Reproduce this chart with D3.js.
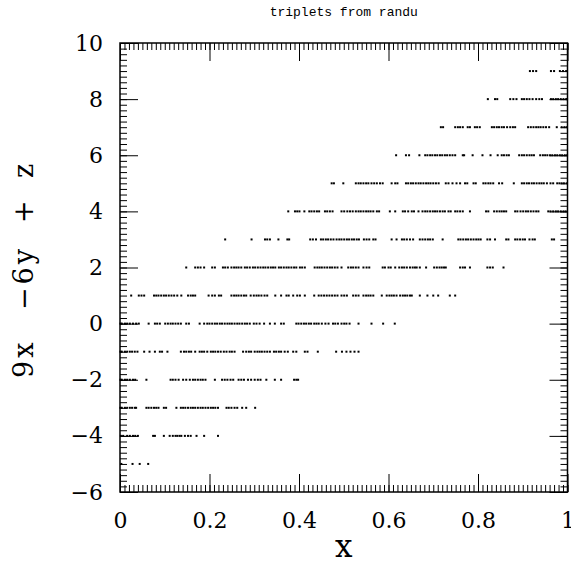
<!DOCTYPE html>
<html lang="en">
<head>
<meta charset="UTF-8">
<title>triplets from randu</title>
<script src="https://d3js.org/d3.v7.min.js"></script>
<style>
  body { margin: 0; background: #fff; }
  svg { display: block; }
  .tick line { stroke: #000; stroke-width: 1px; }
  .tick text { font-family: "DejaVu Serif", serif; fill: #000; }
  .title { font-family: "Liberation Mono", monospace; font-size: 13px; }
  .axis-label { font-family: "DejaVu Serif", serif; }
</style>
</head>
<body>
<svg width="571" height="569"></svg>
<script>
// values of 9x - 6y + z (integer levels) and the x of each point
const levels = [9, 8, 7, 6, 5, 4, 3, 2, 1, 0, -1, -2, -3, -4, -5];

const x9 = [0.916, 0.923, 0.930, 0.963, 0.970, 0.983, 0.990, 0.997];
const x8 = [0.822, 0.838, 0.843, 0.872, 0.879, 0.886, 0.898, 0.903, 0.909, 0.915, 0.922, 0.930,
  0.937, 0.943, 0.963, 0.968, 0.974, 0.979, 0.985, 0.991, 0.997, 0.999];
const x7 = [0.717, 0.722, 0.749, 0.755, 0.760, 0.766, 0.777, 0.782, 0.793, 0.798, 0.804, 0.831,
  0.836, 0.842, 0.847, 0.853, 0.858, 0.865, 0.872, 0.878, 0.883, 0.912, 0.918, 0.924, 0.930,
  0.935, 0.940, 0.946, 0.952, 0.959, 0.976, 0.987, 0.993, 0.998];
const x6 = [0.617, 0.639, 0.646, 0.669, 0.682, 0.687, 0.693, 0.698, 0.704, 0.709, 0.715, 0.720,
  0.726, 0.731, 0.737, 0.743, 0.749, 0.766, 0.769, 0.788, 0.810, 0.828, 0.844, 0.853, 0.858,
  0.864, 0.869, 0.892, 0.898, 0.903, 0.909, 0.915, 0.920, 0.925, 0.939, 0.945, 0.950, 0.955,
  0.961, 0.966, 0.972, 0.977, 0.983, 0.988, 0.994, 0.999];
const x5 = [0.473, 0.478, 0.499, 0.527, 0.533, 0.538, 0.544, 0.550, 0.555, 0.562, 0.568, 0.574,
  0.581, 0.587, 0.607, 0.615, 0.620, 0.639, 0.644, 0.650, 0.655, 0.661, 0.667, 0.672, 0.678,
  0.684, 0.689, 0.694, 0.700, 0.706, 0.712, 0.728, 0.734, 0.743, 0.752, 0.760, 0.771, 0.776,
  0.790, 0.795, 0.812, 0.817, 0.823, 0.828, 0.834, 0.847, 0.854, 0.880, 0.898, 0.903, 0.909,
  0.914, 0.920, 0.925, 0.931, 0.937, 0.942, 0.947, 0.954, 0.962, 0.968, 0.977, 0.982, 0.987,
  0.992, 0.998];
const x4 = [0.376, 0.391, 0.396, 0.401, 0.412, 0.423, 0.428, 0.434, 0.440, 0.445, 0.458, 0.463,
  0.469, 0.475, 0.495, 0.501, 0.508, 0.514, 0.520, 0.527, 0.533, 0.538, 0.544, 0.550, 0.555,
  0.560, 0.566, 0.574, 0.579, 0.603, 0.615, 0.632, 0.637, 0.644, 0.652, 0.657, 0.667, 0.676,
  0.682, 0.687, 0.693, 0.699, 0.704, 0.709, 0.715, 0.721, 0.726, 0.734, 0.739, 0.749, 0.754,
  0.760, 0.766, 0.782, 0.818, 0.823, 0.836, 0.842, 0.848, 0.853, 0.858, 0.863, 0.883, 0.888,
  0.895, 0.901, 0.907, 0.912, 0.918, 0.924, 0.930, 0.935, 0.957, 0.962, 0.968, 0.974, 0.979,
  0.985, 0.991, 0.996];
const x3 = [0.235, 0.294, 0.324, 0.329, 0.335, 0.354, 0.374, 0.378, 0.425, 0.431, 0.438, 0.449,
  0.454, 0.460, 0.465, 0.471, 0.477, 0.484, 0.490, 0.495, 0.501, 0.507, 0.512, 0.518, 0.523,
  0.529, 0.534, 0.545, 0.551, 0.557, 0.566, 0.571, 0.607, 0.618, 0.630, 0.635, 0.641, 0.648,
  0.655, 0.670, 0.676, 0.682, 0.688, 0.693, 0.699, 0.721, 0.756, 0.761, 0.767, 0.773, 0.778,
  0.784, 0.790, 0.796, 0.801, 0.806, 0.821, 0.827, 0.838, 0.863, 0.868, 0.883, 0.888, 0.894,
  0.900, 0.905, 0.915, 0.922, 0.927, 0.965, 0.970];
const x2 = [0.148, 0.168, 0.174, 0.180, 0.188, 0.206, 0.212, 0.230, 0.235, 0.241, 0.249, 0.255,
  0.260, 0.265, 0.271, 0.279, 0.284, 0.290, 0.297, 0.302, 0.308, 0.314, 0.320, 0.325, 0.331,
  0.337, 0.342, 0.347, 0.355, 0.360, 0.366, 0.372, 0.377, 0.383, 0.389, 0.394, 0.402, 0.407,
  0.413, 0.435, 0.441, 0.446, 0.451, 0.457, 0.463, 0.469, 0.474, 0.480, 0.486, 0.495, 0.510,
  0.516, 0.521, 0.527, 0.533, 0.544, 0.551, 0.557, 0.587, 0.592, 0.600, 0.605, 0.615, 0.624,
  0.630, 0.635, 0.641, 0.648, 0.654, 0.659, 0.663, 0.670, 0.684, 0.702, 0.708, 0.714, 0.719,
  0.724, 0.728, 0.760, 0.766, 0.771, 0.782, 0.821, 0.827, 0.833, 0.857];
const x1 = [0.025, 0.042, 0.048, 0.054, 0.076, 0.081, 0.086, 0.092, 0.098, 0.103, 0.109, 0.115,
  0.121, 0.128, 0.137, 0.152, 0.158, 0.163, 0.168, 0.198, 0.206, 0.212, 0.221, 0.226, 0.249,
  0.255, 0.260, 0.265, 0.271, 0.277, 0.282, 0.292, 0.299, 0.305, 0.310, 0.316, 0.323, 0.329,
  0.347, 0.360, 0.372, 0.377, 0.387, 0.396, 0.402, 0.413, 0.434, 0.444, 0.450, 0.456, 0.462,
  0.468, 0.474, 0.480, 0.486, 0.495, 0.501, 0.507, 0.521, 0.527, 0.533, 0.544, 0.550, 0.555,
  0.560, 0.566, 0.585, 0.596, 0.602, 0.607, 0.612, 0.618, 0.626, 0.632, 0.637, 0.642, 0.648,
  0.652, 0.670, 0.687, 0.700, 0.711, 0.737, 0.749];
const x0 = [0.001, 0.004, 0.011, 0.016, 0.022, 0.029, 0.036, 0.042, 0.064, 0.078, 0.083, 0.089,
  0.101, 0.107, 0.113, 0.118, 0.124, 0.130, 0.136, 0.148, 0.154, 0.178, 0.188, 0.195, 0.200,
  0.206, 0.212, 0.217, 0.223, 0.228, 0.234, 0.240, 0.245, 0.250, 0.256, 0.262, 0.267, 0.273,
  0.279, 0.284, 0.290, 0.299, 0.305, 0.312, 0.322, 0.335, 0.346, 0.360, 0.366, 0.394, 0.399,
  0.405, 0.411, 0.416, 0.422, 0.427, 0.434, 0.439, 0.444, 0.451, 0.459, 0.466, 0.476, 0.481,
  0.487, 0.495, 0.501, 0.506, 0.513, 0.533, 0.562, 0.588, 0.614];
const xm1 = [0.001, 0.004, 0.011, 0.016, 0.022, 0.027, 0.033, 0.039, 0.054, 0.066, 0.078, 0.089,
  0.094, 0.106, 0.136, 0.143, 0.148, 0.154, 0.159, 0.168, 0.178, 0.183, 0.188, 0.195, 0.203,
  0.208, 0.213, 0.219, 0.225, 0.232, 0.238, 0.245, 0.250, 0.256, 0.275, 0.282, 0.288, 0.293,
  0.301, 0.307, 0.312, 0.317, 0.323, 0.329, 0.335, 0.344, 0.349, 0.355, 0.360, 0.368, 0.375,
  0.387, 0.394, 0.413, 0.419, 0.442, 0.483, 0.496, 0.506, 0.515, 0.524, 0.533];
const xm2 = [0.001, 0.004, 0.011, 0.016, 0.022, 0.029, 0.034, 0.059, 0.113, 0.118, 0.124, 0.131,
  0.141, 0.148, 0.156, 0.163, 0.168, 0.174, 0.180, 0.185, 0.191, 0.212, 0.228, 0.234, 0.240,
  0.247, 0.253, 0.265, 0.271, 0.277, 0.286, 0.293, 0.301, 0.308, 0.314, 0.327, 0.346, 0.360,
  0.389, 0.394, 0.398];
const xm3 = [0.001, 0.004, 0.011, 0.016, 0.022, 0.027, 0.033, 0.036, 0.059, 0.064, 0.070, 0.076,
  0.081, 0.086, 0.098, 0.103, 0.126, 0.136, 0.141, 0.146, 0.152, 0.158, 0.163, 0.168, 0.174,
  0.180, 0.185, 0.191, 0.197, 0.203, 0.208, 0.213, 0.219, 0.238, 0.243, 0.249, 0.256, 0.262,
  0.273, 0.282, 0.302];
const xm4 = [0.002, 0.007, 0.016, 0.022, 0.029, 0.034, 0.040, 0.074, 0.078, 0.098, 0.111, 0.118,
  0.124, 0.128, 0.133, 0.137, 0.145, 0.152, 0.158, 0.171, 0.188, 0.219];
const xm5 = [0.003, 0.028, 0.044, 0.063];

const levelXs = [x9, x8, x7, x6, x5, x4, x3, x2, x1, x0, xm1, xm2, xm3, xm4, xm5];

const xTickLabels = [0, 0.2, 0.4, 0.6, 0.8, 1];
const yTickLabels = [-6, -4, -2, 0, 2, 4, 6, 8, 10];

const points = [];
levels.forEach((v, i) => levelXs[i].forEach(xv => points.push({x: xv, v: v})));

const svg = d3.select("svg");
const plotLeft = 120, plotRight = 567.5, plotTop = 43, plotBottom = 492;

const x = d3.scaleLinear().domain([0, 1]).range([plotLeft, plotRight]);
const y = d3.scaleLinear().domain([-6, 10]).range([plotBottom, plotTop]);

const xMinor = d3.range(0, 101).map(d => d / 100);
const yMinor = d3.range(-30, 51).map(d => d / 5);

const fmtX = d => String(+d.toFixed(1));
const fmtY = d3.format("d");

// minor ticks, all four sides, pointing inward
svg.append("g").attr("transform", `translate(0,${plotBottom})`)
    .call(d3.axisBottom(x).tickValues(xMinor).tickSize(-7).tickFormat(""));
svg.append("g").attr("transform", `translate(0,${plotTop})`)
    .call(d3.axisTop(x).tickValues(xMinor).tickSize(-7).tickFormat(""));
svg.append("g").attr("transform", `translate(${plotLeft},0)`)
    .call(d3.axisLeft(y).tickValues(yMinor).tickSize(-7).tickFormat(""));
svg.append("g").attr("transform", `translate(${plotRight},0)`)
    .call(d3.axisRight(y).tickValues(yMinor).tickSize(-7).tickFormat(""));

// major ticks + labels
svg.append("g").attr("transform", `translate(0,${plotBottom})`)
    .call(d3.axisBottom(x).tickValues(xTickLabels).tickSize(-18).tickPadding(20).tickFormat(fmtX))
    .call(g => g.selectAll("text").attr("font-size", 22));
svg.append("g").attr("transform", `translate(0,${plotTop})`)
    .call(d3.axisTop(x).tickValues(xTickLabels).tickSize(-18).tickFormat(""));
svg.append("g").attr("transform", `translate(${plotLeft},0)`)
    .call(d3.axisLeft(y).tickValues(yTickLabels).tickSize(-18).tickPadding(17).tickFormat(fmtY))
    .call(g => g.selectAll("text").attr("font-size", 22));
svg.append("g").attr("transform", `translate(${plotRight},0)`)
    .call(d3.axisRight(y).tickValues(yTickLabels).tickSize(-18).tickFormat(""));

svg.selectAll(".domain").remove();

// frame
svg.append("rect")
    .attr("x", plotLeft).attr("y", plotTop)
    .attr("width", plotRight - plotLeft).attr("height", plotBottom - plotTop)
    .attr("fill", "none").attr("stroke", "#000").attr("stroke-width", 1.5);

// points
svg.append("g")
    .selectAll("rect")
    .data(points)
    .enter().append("rect")
    .attr("x", d => x(d.x) - 1)
    .attr("y", d => y(d.v) - 1)
    .attr("width", 2)
    .attr("height", 2)
    .attr("fill", "#000");

// title
svg.append("text")
    .attr("class", "title")
    .attr("x", (plotLeft + plotRight) / 2).attr("y", 16)
    .attr("text-anchor", "middle")
    .text("triplets from randu");

// x label
svg.append("text")
    .attr("class", "axis-label")
    .attr("x", (plotLeft + plotRight) / 2).attr("y", 557)
    .attr("text-anchor", "middle")
    .attr("font-size", 31)
    .text("x");

// y label, pieces spaced like the original
const yl = svg.append("g").attr("transform", "translate(33,378) rotate(-90)");
[["9x", 0], ["\u22126y", 68], ["+", 155], ["z", 200]].forEach(p => {
    yl.append("text")
        .attr("class", "axis-label")
        .attr("x", p[1]).attr("y", 0)
        .attr("font-size", 27)
        .attr("letter-spacing", 3)
        .text(p[0]);
});
</script>
</body>
</html>
